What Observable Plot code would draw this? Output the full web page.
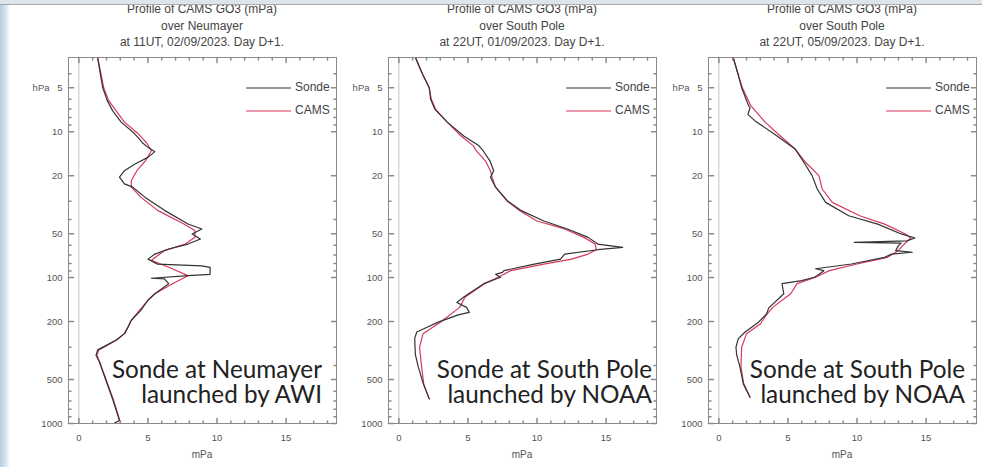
<!DOCTYPE html>
<html><head><meta charset="utf-8">
<script src="https://cdn.jsdelivr.net/npm/d3@7"></script>
<script src="https://cdn.jsdelivr.net/npm/@observablehq/plot@0.6"></script>
<style>
body{margin:0;background:#fff;}
#root{position:relative;width:982px;height:467px;overflow:hidden;
  background:linear-gradient(90deg,#b7cce2 0px,#d3e0ec 5px,#ffffff 10px);
  font-family:"Liberation Sans",Arial,sans-serif;}
#topband{position:absolute;left:0;top:0;width:982px;height:4px;background:#dde4ec;border-bottom:1px solid #a9a9a9;z-index:5;}
.plot{position:absolute;top:0;}
.title{position:absolute;top:1px;width:300px;text-align:center;font-size:12px;line-height:16.5px;color:#444;}
.legend{position:absolute;font-size:12px;color:#444;}
.legend .row{position:absolute;left:0;white-space:nowrap;height:12px;}
.legend svg{position:absolute;left:0;top:5px;}
.legend span{position:absolute;left:49px;top:-2px;}
.note{position:absolute;text-align:right;font-family:Lato,"Open Sans",sans-serif;font-size:24.3px;line-height:25px;color:#222;white-space:nowrap;}
.xlab{position:absolute;top:449px;width:268px;text-align:center;font-size:10px;color:#555;}
</style>
</head><body>
<div id="root"><div id="topband"></div></div>
<script>
// ---- data (pressure hPa, ozone partial pressure mPa) ----
const neumayerSondeP = [3.1, 4, 5, 6.1, 7.2, 8.6, 10.3, 11.9, 12.8, 13.7, 15.0, 16.7, 18.5, 20.5, 22.8, 24.0, 28.2, 34.6, 42.9, 46.4, 50.2, 54.4, 58.9, 63.7, 69, 74.7, 80.8, 83, 85, 95, 97, 101, 102, 110, 129, 143, 167, 196, 220, 242, 268, 296, 313, 341, 377, 509, 687, 955, 990];
const neumayerSondeO3 = [1.36, 1.55, 1.73, 2.05, 2.45, 3.06, 4.03, 4.6, 5.0, 5.5, 5.0, 4.03, 3.3, 2.94, 3.3, 3.9, 4.8, 6.2, 7.9, 8.9, 8.2, 8.8, 7.9, 6.5, 5.5, 5.0, 5.7, 8.9, 9.5, 9.5, 7.9, 5.25, 6.2, 6.5, 5.5, 5.0, 4.5, 3.8, 3.55, 3.3, 2.7, 1.85, 1.36, 1.24, 1.48, 1.97, 2.46, 2.94, 2.6];
const neumayerCamsP = [3.1, 4, 5, 6.1, 7.2, 8.6, 10.3, 11.9, 13.5, 15.9, 18.5, 21.6, 24, 28.2, 34.6, 42.9, 47.6, 52.9, 58.9, 65.3, 76, 85, 97, 108, 129, 143, 167, 196, 242, 268, 296, 313, 341, 377, 509, 687, 980];
const neumayerCamsO3 = [1.36, 1.6, 1.8, 2.15, 2.7, 3.3, 4.28, 4.9, 5.25, 4.8, 4.2, 3.8, 3.8, 4.5, 5.7, 7.6, 8.4, 8.4, 7.7, 6.2, 5.25, 6.5, 7.9, 6.95, 5.5, 5.0, 4.4, 3.8, 3.3, 2.75, 1.9, 1.45, 1.3, 1.5, 2.0, 2.5, 3.0];

const pole1SondeP = [3.1, 4, 5, 6, 7, 8.6, 10.7, 12.5, 13.5, 15.9, 18.5, 20.5, 24, 29.7, 34.6, 40.9, 46.4, 53, 58.9, 62, 64.4, 69, 74.7, 80.8, 89.6, 92, 95, 99.4, 110, 136, 148, 160, 173, 180, 202, 220, 236, 260, 300, 339, 411, 535, 678];
const pole1SondeO3 = [1.2, 1.7, 2.2, 2.3, 2.6, 3.5, 4.7, 5.8, 6.1, 6.6, 6.87, 6.63, 7.0, 7.85, 8.82, 10.5, 12.2, 13.7, 14.4, 16.2, 14.4, 12.0, 11.7, 9.8, 7.6, 7.5, 7.0, 7.36, 6.15, 4.7, 4.2, 4.9, 5.1, 4.3, 2.85, 2.0, 1.3, 1.15, 1.17, 1.2, 1.41, 1.77, 2.2];
const pole1CamsP = [3.1, 4, 5, 6, 7, 8.6, 10.7, 12.5, 13.5, 15.9, 18.5, 20.5, 24, 29.7, 34.6, 40.9, 46.4, 53, 58.9, 64.4, 69, 74.7, 80.8, 89.6, 99.4, 110, 136, 160, 202, 243, 300, 411, 535, 678];
const pole1CamsO3 = [1.2, 1.7, 2.2, 2.35, 2.65, 3.5, 4.5, 5.4, 5.6, 6.27, 6.63, 6.75, 7.0, 7.8, 8.7, 10.0, 12.0, 13.4, 14.2, 14.3, 13.7, 12.5, 10.5, 8.1, 7.2, 6.2, 4.8, 4.4, 3.0, 1.75, 1.5, 1.65, 1.8, 2.2];

const pole2SondeP = [3.1, 4.1, 5, 6.6, 6.85, 7.6, 8.4, 10.3, 13.2, 16.2, 20, 24.7, 30.5, 37.7, 43, 50.2, 53.5, 56, 57.3, 58, 60.4, 65.3, 67, 69, 72.6, 80.7, 87, 89.6, 97, 99.5, 105, 110, 129, 162, 177, 202, 236, 263, 300, 339, 411, 535, 661];
const pole2SondeO3 = [1.04, 1.41, 1.65, 2.14, 2.26, 2.1, 2.6, 3.96, 5.54, 6.15, 6.75, 7.12, 7.73, 9.4, 11.5, 13.2, 14.2, 13.6, 9.8, 13.2, 13.0, 12.8, 14.0, 12.5, 12.0, 9.6, 7.0, 7.6, 7.1, 6.9, 6.0, 4.57, 4.7, 3.6, 3.47, 2.87, 1.9, 1.4, 1.24, 1.29, 1.53, 1.77, 2.26];
const pole2CamsP = [3.1, 4.1, 5, 6.6, 7.4, 8.6, 10.7, 13.2, 16.2, 20, 24.7, 30.5, 37.7, 43, 50.2, 53.5, 60.4, 65.3, 72.6, 80.7, 89.6, 99.5, 110, 129, 160, 177, 208, 243, 300, 411, 535, 661];
const pole2CamsO3 = [1.04, 1.41, 1.7, 2.3, 2.75, 3.35, 4.45, 5.54, 6.27, 7.24, 7.48, 8.21, 10.2, 12.0, 13.5, 13.9, 13.3, 13.0, 12.2, 10.0, 8.0, 7.0, 5.66, 5.2, 3.9, 3.5, 3.0, 2.0, 1.65, 1.6, 1.8, 2.26];

const titleLine1 = "Profile of CAMS GO3 (mPa)";
const stations = ["over Neumayer", "over South Pole", "over South Pole"];
const times = ["at 11UT, 02/09/2023. Day D+1.", "at 22UT, 01/09/2023. Day D+1.", "at 22UT, 05/09/2023. Day D+1."];
const notes = [["Sonde at Neumayer", "launched by AWI"], ["Sonde at South Pole", "launched by NOAA"], ["Sonde at South Pole", "launched by NOAA"]];
const seriesNames = ["Sonde", "CAMS"];
const yUnit = "hPa";
const xUnit = "mPa";
const xMajor = [0, 5, 10, 15];
const xMinor = [1, 2, 3, 4, 6, 7, 8, 9, 11, 12, 13, 14, 16, 17, 18];
const yMajor = [5, 10, 20, 50, 100, 200, 500, 1000];
const yMinor = [4, 6, 7, 8, 9, 30, 40, 60, 70, 80, 90, 300, 400, 600, 700, 800, 900];

// ---- layout ----
const frameLefts = [68, 388, 708];
const frameW = 268;
const mL = 50, mR = 4, mT = 57, mB = 44, H = 467;
const noteRights = [322, 652, 965];
const sondeColor = "#333333", camsColor = "#d8395a";
const axisStroke = "#8a8a8a";
const tickShape = {draw(context, l) { context.moveTo(0, 0); context.lineTo(0, -l); }};

const panels = [
  [neumayerSondeP, neumayerSondeO3, neumayerCamsP, neumayerCamsO3],
  [pole1SondeP, pole1SondeO3, pole1CamsP, pole1CamsO3],
  [pole2SondeP, pole2SondeO3, pole2CamsP, pole2CamsO3]
];

function ticksX(values, len) {
  return [
    Plot.vector(values, {x: d => d, frameAnchor: "bottom", rotate: 0, length: len, anchor: "start", shape: tickShape, stroke: axisStroke}),
    Plot.vector(values, {x: d => d, frameAnchor: "top", rotate: 180, length: len, anchor: "start", shape: tickShape, stroke: axisStroke})
  ];
}
function ticksY(values, len) {
  return [
    Plot.vector(values, {y: d => d, frameAnchor: "left", rotate: 90, length: len, anchor: "start", shape: tickShape, stroke: axisStroke}),
    Plot.vector(values, {y: d => d, frameAnchor: "right", rotate: -90, length: len, anchor: "start", shape: tickShape, stroke: axisStroke})
  ];
}

const root = document.getElementById("root");

panels.forEach(([sp, sv, cp, cv], i) => {
  const sonde = sp.map((p, k) => ({p, v: sv[k]}));
  const cams = cp.map((p, k) => ({p, v: cv[k]}));
  const svg = Plot.plot({
    width: mL + frameW + mR, height: H,
    marginLeft: mL, marginRight: mR, marginTop: mT, marginBottom: mB,
    style: {background: "transparent", fontFamily: "Liberation Sans, Arial, sans-serif", fontSize: "10px", color: "#555", overflow: "visible"},
    x: {domain: [-0.75, 18.65], label: null, axis: null},
    y: {type: "log", domain: [3.1, 1000], reverse: true, label: null, axis: null},
    marks: [
      Plot.ruleX([0], {stroke: "#c4c4c4", strokeWidth: 1}),
      Plot.line(cams, {x: "v", y: "p", stroke: camsColor, strokeWidth: 1.2}),
      Plot.line(sonde, {x: "v", y: "p", stroke: sondeColor, strokeWidth: 1.2}),
      Plot.frame({stroke: axisStroke}),
      ...ticksX(xMajor, 5),
      ...ticksX(xMinor, 2.5),
      ...ticksY(yMajor, 5),
      ...ticksY(yMinor, 2.5),
      Plot.text(xMajor, {x: d => d, frameAnchor: "bottom", dy: 17, text: d => String(d), fill: "#555", fontSize: 9.5}),
      Plot.text(yMajor, {y: d => d, frameAnchor: "left", dx: -6, textAnchor: "end", text: d => String(d), fill: "#555", fontSize: 9.5}),
      Plot.text(yMajor.slice(0, 1), {y: d => d, frameAnchor: "left", dx: -19, textAnchor: "end", text: () => yUnit, fill: "#555", fontSize: 9.5})
    ]
  });
  svg.classList.add("plot");
  svg.style.left = (frameLefts[i] - mL) + "px";
  root.appendChild(svg);

  const cx = frameLefts[i] + frameW / 2;
  const t = document.createElement("div");
  t.className = "title";
  t.style.left = (cx - 150) + "px";
  t.innerHTML = `${titleLine1}<br>${stations[i]}<br>${times[i]}`;
  root.appendChild(t);

  const xl = document.createElement("div");
  xl.className = "xlab";
  xl.style.left = frameLefts[i] + "px";
  xl.textContent = xUnit;
  root.appendChild(xl);

  const lg = document.createElement("div");
  lg.className = "legend";
  lg.style.left = (frameLefts[i] + frameW - 90) + "px";
  lg.style.top = "82px";
  [sondeColor, camsColor].forEach((c, k) => {
    const row = document.createElement("div");
    row.className = "row";
    row.style.top = (k * 23) + "px";
    row.innerHTML = `<svg width="45" height="2"><line x1="0" y1="1" x2="45" y2="1" stroke="${c}" stroke-width="1"/></svg><span>${seriesNames[k]}</span>`;
    lg.appendChild(row);
  });
  root.appendChild(lg);

  const n = document.createElement("div");
  n.className = "note";
  n.style.right = (982 - noteRights[i]) + "px";
  n.style.top = "356px";
  n.innerHTML = `${notes[i][0]}<br>${notes[i][1]}`;
  root.appendChild(n);
});
</script>
</body></html>
